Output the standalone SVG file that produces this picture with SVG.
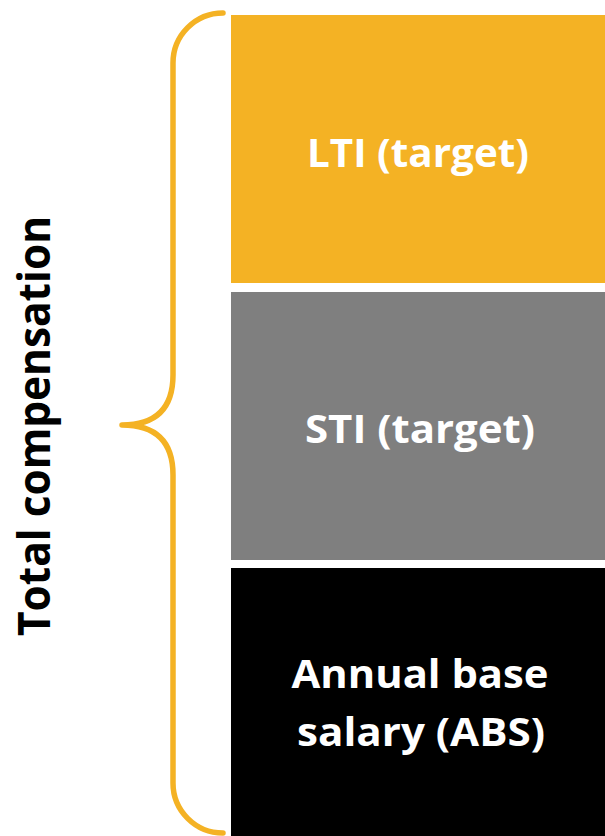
<svg xmlns="http://www.w3.org/2000/svg" width="605" height="836" viewBox="0 0 605 836">
<style>
.lbl{font-family:"Open Sans","Liberation Sans",sans-serif;font-weight:bold;fill:#fff;font-size:40px;text-anchor:middle}
.brace{fill:none;stroke:#F4B224;stroke-width:5.5;stroke-linecap:round;stroke-linejoin:round}
</style>
<rect width="605" height="836" fill="#fff"/>
<g id="connectors">
<path class="brace" d="M223,13 A50,50 0 0 0 173,63 L173,375 Q173,425 122,425 Q173,425 173,475 L173,783 A50,50 0 0 0 223,833"/>
</g>
<g id="lti">
<rect x="231" y="15" width="374" height="268" fill="#F4B224"/>
<text class="lbl" x="418" y="167" textLength="222" lengthAdjust="spacingAndGlyphs">LTI (target)</text>
</g>
<g id="sti">
<rect x="231" y="292" width="374" height="268" fill="#7F7F7F"/>
<text class="lbl" x="420" y="443" textLength="230" lengthAdjust="spacingAndGlyphs">STI (target)</text>
</g>
<g id="abs">
<rect x="231" y="568" width="374" height="268" fill="#000"/>
<text class="lbl" x="420" y="688" textLength="257" lengthAdjust="spacingAndGlyphs">Annual base</text>
<text class="lbl" x="421" y="746" textLength="248" lengthAdjust="spacingAndGlyphs">salary (ABS)</text>
</g>
<g id="total">
<text transform="translate(50,426) rotate(-90)" font-family="Open Sans, Liberation Sans, sans-serif" font-weight="bold" font-size="44" text-anchor="middle" fill="#000" textLength="420" lengthAdjust="spacingAndGlyphs">Total compensation</text>
</g>
</svg>
